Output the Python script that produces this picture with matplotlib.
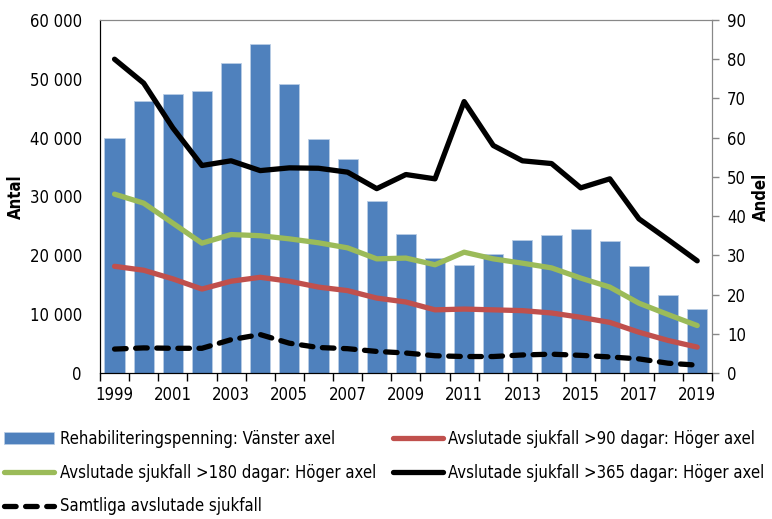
import numpy as np
import matplotlib
matplotlib.use("Agg")
import matplotlib.pyplot as plt
from matplotlib.ticker import FuncFormatter

plt.rcParams['font.family'] = ['DejaVu Sans']
plt.rcParams['font.stretch'] = 'condensed'

years = list(range(1999, 2020))
# Rehabiliteringspenning (left axis)
rehab = [40000, 46300, 47500, 47900, 52700, 56000, 49100, 39700, 36300, 29200,
         23700, 19600, 18300, 20200, 22600, 23500, 24500, 22400, 18200, 13300, 10900]
# right axis series (Andel)
over90 = [27.2, 26.2, 24.0, 21.4, 23.4, 24.4, 23.4, 21.9, 21.0, 19.1,
          18.1, 16.1, 16.3, 16.1, 15.9, 15.3, 14.2, 12.9, 10.4, 8.3, 6.6]
over180 = [45.6, 43.3, 38.2, 33.1, 35.3, 35.0, 34.2, 33.2, 31.9, 29.1,
           29.3, 27.6, 30.8, 29.1, 28.0, 26.8, 24.2, 21.9, 17.8, 14.9, 12.1]
over365 = [80.0, 73.9, 62.5, 52.9, 54.1, 51.6, 52.3, 52.2, 51.2, 47.0,
           50.6, 49.5, 69.2, 58.0, 54.1, 53.4, 47.2, 49.5, 39.3, 34.0, 28.6]
samtliga = [6.1, 6.4, 6.3, 6.3, 8.5, 9.8, 7.6, 6.5, 6.2, 5.5,
            5.1, 4.4, 4.2, 4.2, 4.6, 4.8, 4.5, 4.1, 3.6, 2.5, 2.0]

fs = 12

fig = plt.figure(figsize=(7.72, 5.19), dpi=100)
ax = fig.add_axes([0.1295, 0.2813, 0.7925, 0.6802])
x = np.arange(len(years))

bars = ax.bar(x, rehab, width=0.69, color='#4F81BD', edgecolor='#B9CDE5',
              linewidth=0.6, label='Rehabiliteringspenning: Vänster axel')
ax.set_ylim(0, 60000)
ax.set_xlim(-0.5, len(years) - 0.5)
ax.set_yticks(np.arange(0, 60001, 10000))
ax.yaxis.set_major_formatter(FuncFormatter(lambda v, p: f"{int(v):,}".replace(",", " ")))
ax.tick_params(axis='y', length=0, labelsize=fs, pad=13)
ax.set_ylabel('Antal', fontsize=fs, fontweight='bold')
ax.yaxis.set_label_coords(-0.122, 0.5)

ax.set_xticks(x[::2])
ax.set_xticklabels([str(y) for y in years[::2]], fontsize=fs)
ax.tick_params(axis='x', which='major', length=0, pad=9)
ax.set_xticks(np.arange(-0.5, len(years)), minor=True)
ax.tick_params(axis='x', which='minor', length=6, width=1, color='black', direction='out')

ax2 = ax.twinx()
ax2.set_ylim(0, 90)
ax2.set_yticks(np.arange(0, 91, 10))
ax2.tick_params(axis='y', length=5, width=1, color='#888888', labelsize=fs, pad=6)
ax2.set_ylabel('Andel', fontsize=fs, fontweight='bold')
ax2.yaxis.set_label_coords(1.065, 0.5)

l90, = ax2.plot(x, over90, color='#C0504D', lw=3.8, solid_capstyle='round',
                label='Avslutade sjukfall >90 dagar: Höger axel')
l180, = ax2.plot(x, over180, color='#9BBB59', lw=3.8, solid_capstyle='round',
                 label='Avslutade sjukfall >180 dagar: Höger axel')
l365, = ax2.plot(x, over365, color='black', lw=3.8, solid_capstyle='round',
                 label='Avslutade sjukfall >365 dagar: Höger axel')
lsam, = ax2.plot(x, samtliga, color='black', lw=3.8, dashes=(2.2, 1.8),
                 dash_capstyle='round', label='Samtliga avslutade sjukfall')

for a in (ax, ax2):
    a.spines['top'].set_color('#888888')
    a.spines['right'].set_color('#888888')
    a.spines['left'].set_color('black')
    a.spines['bottom'].set_color('black')

handles = [bars, l180, lsam, l90, l365]
fig.legend(handles, [h.get_label() for h in handles], loc='upper left',
           bbox_to_anchor=(0.005, 0.172), ncol=2, frameon=False, fontsize=fs,
           handlelength=3.0, handletextpad=0.35, columnspacing=1.0,
           labelspacing=0.95, borderaxespad=0, borderpad=0)

fig.savefig('out.png', dpi=100)
